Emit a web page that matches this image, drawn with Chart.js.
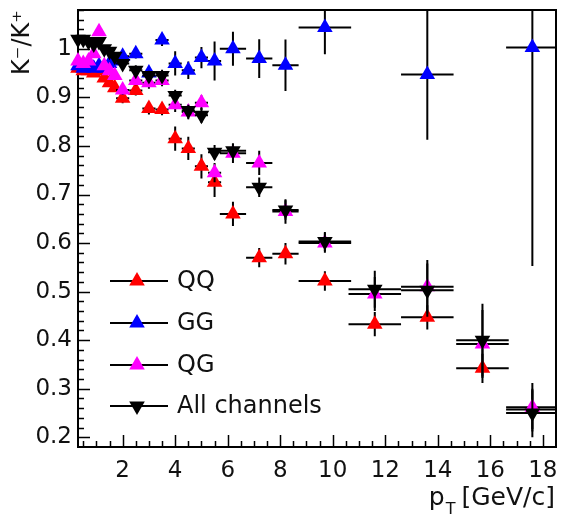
<!DOCTYPE html>
<html>
<head>
<meta charset="utf-8">
<script src="https://cdn.jsdelivr.net/npm/chart.js@4.4.1/dist/chart.umd.min.js"></script>
<style>
  html,body{margin:0;padding:0;background:#fff;}
  canvas{display:block;}
</style>
</head>
<body>
<canvas id="c" width="561" height="516"></canvas>
<script>
// ---- data ----
const pT    = [0.3,0.5,0.7,0.9,1.1,1.3,1.5,1.7, 2.0,2.5,3.0,3.5,4.0,4.5,5.0,5.5, 6.2,7.2,8.2, 9.7,11.6,13.6,15.7,17.6];
const pTerr = [0.1,0.1,0.1,0.1,0.1,0.1,0.1,0.1, 0.25,0.25,0.25,0.25,0.25,0.25,0.25,0.25, 0.5,0.5,0.5, 1,1,1,1,1];

const QQ    = [0.96,0.955,0.955,0.95,0.955,0.94,0.93,0.92, 0.898,0.914,0.877,0.875,0.815,0.795,0.758,0.725, 0.66,0.57,0.578, 0.522,0.433,0.447,0.342,0.257];
const QQerr = [0.005,0.005,0.005,0.005,0.005,0.005,0.005,0.005, 0.01,0.01,0.012,0.012,0.025,0.024,0.025,0.03, 0.025,0.02,0.022, 0.02,0.025,0.025,0.03,0.04];

const GG    = [0.965,0.96,0.965,0.96,0.965,0.96,0.97,0.975, 0.985,0.99,0.95,1.018,0.97,0.956,0.982,0.975, 1.0,0.98,0.966, 1.044,null,0.947,null,1.003];
const GGerr = [0.005,0.005,0.005,0.005,0.005,0.005,0.005,0.005, 0.008,0.01,0.01,0.012,0.025,0.018,0.022,0.04, 0.035,0.04,0.053, 0.055,0,0.134,0,0.45];

const QG    = [0.975,0.97,0.975,0.99,1.035,0.965,0.955,0.945, 0.915,0.935,0.93,0.935,0.885,0.87,0.889,0.745, 0.785,0.765,0.665, 0.6,0.495,0.51,0.392,0.262];
const QGerr = [0.005,0.005,0.005,0.005,0.005,0.005,0.005,0.005, 0.01,0.01,0.012,0.012,0.015,0.015,0.015,0.02, 0.02,0.025,0.025, 0.02,0.035,0.055,0.07,0.05];

const ALL    = [1.02,1.02,1.015,1.01,1.015,1.0,0.995,0.985, 0.97,0.956,0.945,0.945,0.904,0.873,0.863,0.787, 0.79,0.715,0.668, 0.603,0.505,0.503,0.4,0.25];
const ALLerr = [0.005,0.005,0.005,0.005,0.005,0.005,0.005,0.005, 0.008,0.01,0.01,0.012,0.012,0.012,0.015,0.015, 0.015,0.02,0.02, 0.02,0.038,0.055,0.075,0.05];

const seriesNames = ['QQ','GG','QG','All channels'];
const xTicks = [2,4,6,8,10,12,14,16,18];
const yTicks = [0.2,0.3,0.4,0.5,0.6,0.7,0.8,0.9,1];

const FONT = 'DejaVu Sans';
const TXT = '#111';

function pts(vals){ return vals.map((v,i)=>({x:pT[i], y:v})); }

function mk(label, vals, errs, color, down, order){
  return {
    label, data: pts(vals), xerr: pTerr, yerr: errs,
    showLine:false, pointStyle:'triangle', rotation: down?180:0,
    pointRadius:9, pointHoverRadius:9, pointBorderWidth:0,
    backgroundColor:color, borderColor:color, order, clip:false
  };
}

// stretch the plot frame to the right edge of the reference frame
const areaPlugin = {
  id:'area',
  afterLayout(chart){
    const xs = chart.scales.x, a = chart.chartArea;
    const R = 556;
    a.right = R; a.width = R - a.left;
    xs.right = R; xs.width = R - xs.left;
    xs.configure();
  }
};

const errPlugin = {
  id:'errbars',
  beforeDatasetDraw(chart, args){
    const ds = chart.data.datasets[args.index];
    const xs = chart.scales.x, ys = chart.scales.y, ctx = chart.ctx, a = chart.chartArea;
    ctx.save();
    ctx.beginPath(); ctx.rect(a.left, a.top, a.right-a.left, a.bottom-a.top); ctx.clip();
    ctx.strokeStyle = '#000'; ctx.lineWidth = 2;
    ds.data.forEach((p,i)=>{
      if(p.y==null) return;
      const ex = ds.xerr[i], ey = ds.yerr[i];
      const px = xs.getPixelForValue(p.x), py = ys.getPixelForValue(p.y);
      ctx.beginPath();
      ctx.moveTo(xs.getPixelForValue(p.x-ex), py); ctx.lineTo(xs.getPixelForValue(p.x+ex), py);
      ctx.moveTo(px, ys.getPixelForValue(p.y-ey)); ctx.lineTo(px, ys.getPixelForValue(p.y+ey));
      ctx.stroke();
    });
    ctx.restore();
  }
};

const framePlugin = {
  id:'frame',
  beforeDatasetsDraw(chart){
    const ctx = chart.ctx, a = chart.chartArea, xs = chart.scales.x, ys = chart.scales.y;
    ctx.save();
    ctx.strokeStyle = '#000'; ctx.lineWidth = 1.5;
    ctx.beginPath();
    for(let k=9;k<=54;k++){
      const v = k*0.02; const y = Math.round(ys.getPixelForValue(v))+0.5;
      if(y < a.top || y > a.bottom) continue;
      const major = (k%5===0);
      ctx.moveTo(a.left, y); ctx.lineTo(a.left + (major?12:6), y);
    }
    for(let k=1;k<=37;k++){
      const v = k*0.5; const x = Math.round(xs.getPixelForValue(v))+0.5;
      if(x < a.left || x > a.right) continue;
      const major = (k%4===0);
      ctx.moveTo(x, a.bottom); ctx.lineTo(x, a.bottom - (major?12:6));
    }
    ctx.stroke();
    ctx.lineWidth = 2;
    ctx.strokeRect(a.left, a.top, a.right-a.left, a.bottom-a.top);
    ctx.restore();
  }
};

function tri(ctx,x,y,r,down,color){
  ctx.beginPath();
  for(let k=0;k<3;k++){
    const ang = (down?Math.PI:0) + k*2*Math.PI/3;
    ctx.lineTo(x+Math.sin(ang)*r, y-Math.cos(ang)*r);
  }
  ctx.closePath(); ctx.fillStyle=color; ctx.fill();
}

const legendPlugin = {
  id:'rootlegend',
  afterDraw(chart){
    const ctx = chart.ctx;
    const rows = [281, 323, 365, 406];
    const cols = ['#ff0000','#0000ff','#ff00ff','#000000'];
    ctx.save();
    seriesNames.forEach((name,i)=>{
      const y = rows[i];
      ctx.strokeStyle='#000'; ctx.lineWidth=2;
      ctx.beginPath(); ctx.moveTo(110,y); ctx.lineTo(168,y); ctx.stroke();
      tri(ctx,137,y,9,i===3,cols[i]);
      ctx.fillStyle=TXT; ctx.font='24px "'+FONT+'"'; ctx.textBaseline='middle'; ctx.textAlign='left';
      ctx.fillText(name,177,y+1);
    });
    const xEnd = 555, base = 505;
    ctx.textBaseline='alphabetic'; ctx.textAlign='left';
    ctx.font='25px "'+FONT+'"';
    const w1 = ctx.measureText('[GeV/c]').width;
    const wp = ctx.measureText('p').width;
    ctx.font='16px "'+FONT+'"';
    const wt = ctx.measureText('T').width;
    let x = xEnd - w1;
    ctx.fillStyle=TXT;
    ctx.font='25px "'+FONT+'"';
    ctx.fillText('[GeV/c]', x, base);
    x -= (wt + 6);
    ctx.font='16px "'+FONT+'"';
    ctx.fillText('T', x, base+9);
    x -= (wp + 1);
    ctx.font='25px "'+FONT+'"';
    ctx.fillText('p', x, base);
    ctx.restore();
  }
};

new Chart(document.getElementById('c'), {
  type:'scatter',
  data:{ datasets:[
    mk(seriesNames[0], QQ, QQerr, '#ff0000', false, 4),
    mk(seriesNames[1], GG, GGerr, '#0000ff', false, 3),
    mk(seriesNames[2], QG, QGerr, '#ff00ff', false, 2),
    mk(seriesNames[3], ALL, ALLerr, '#000000', true, 1)
  ]},
  options:{
    responsive:false, animation:false, devicePixelRatio:1,
    layout:{ padding:{ top:10, right:0, left:0, bottom:0 } },
    plugins:{ legend:{display:false}, tooltip:{enabled:false} },
    scales:{
      x:{
        type:'linear', min:0.3, max:18.5,
        afterBuildTicks: ax => { ax.ticks = xTicks.map(v=>({value:v})); },
        afterFit: s => { s.height = 69; s.paddingLeft = 0; s.paddingRight = 0; },
        grid:{ display:false, drawTicks:false }, border:{ display:false },
        ticks:{ font:{family:FONT, size:23}, color:TXT, padding:10, maxRotation:0, autoSkip:false,
                callback: v => String(v) }
      },
      y:{
        type:'linear', min:0.18, max:1.08,
        afterBuildTicks: ax => { ax.ticks = yTicks.map(v=>({value:v})); },
        afterFit: s => { s.width = 78; s.paddingTop = 0; s.paddingBottom = 0; },
        grid:{ display:false, drawTicks:false }, border:{ display:false },
        ticks:{ font:{family:FONT, size:23}, color:TXT, padding:6,
                callback: v => (Math.abs(v-1)<1e-9 ? '1' : v.toFixed(1)) },
        title:{ display:true, text:'K\u207B/K\u207A', align:'end', color:TXT,
                font:{family:FONT, size:24}, padding:{top:8, bottom:0} }
      }
    }
  },
  plugins:[areaPlugin, errPlugin, framePlugin, legendPlugin]
});
</script>
</body>
</html>
